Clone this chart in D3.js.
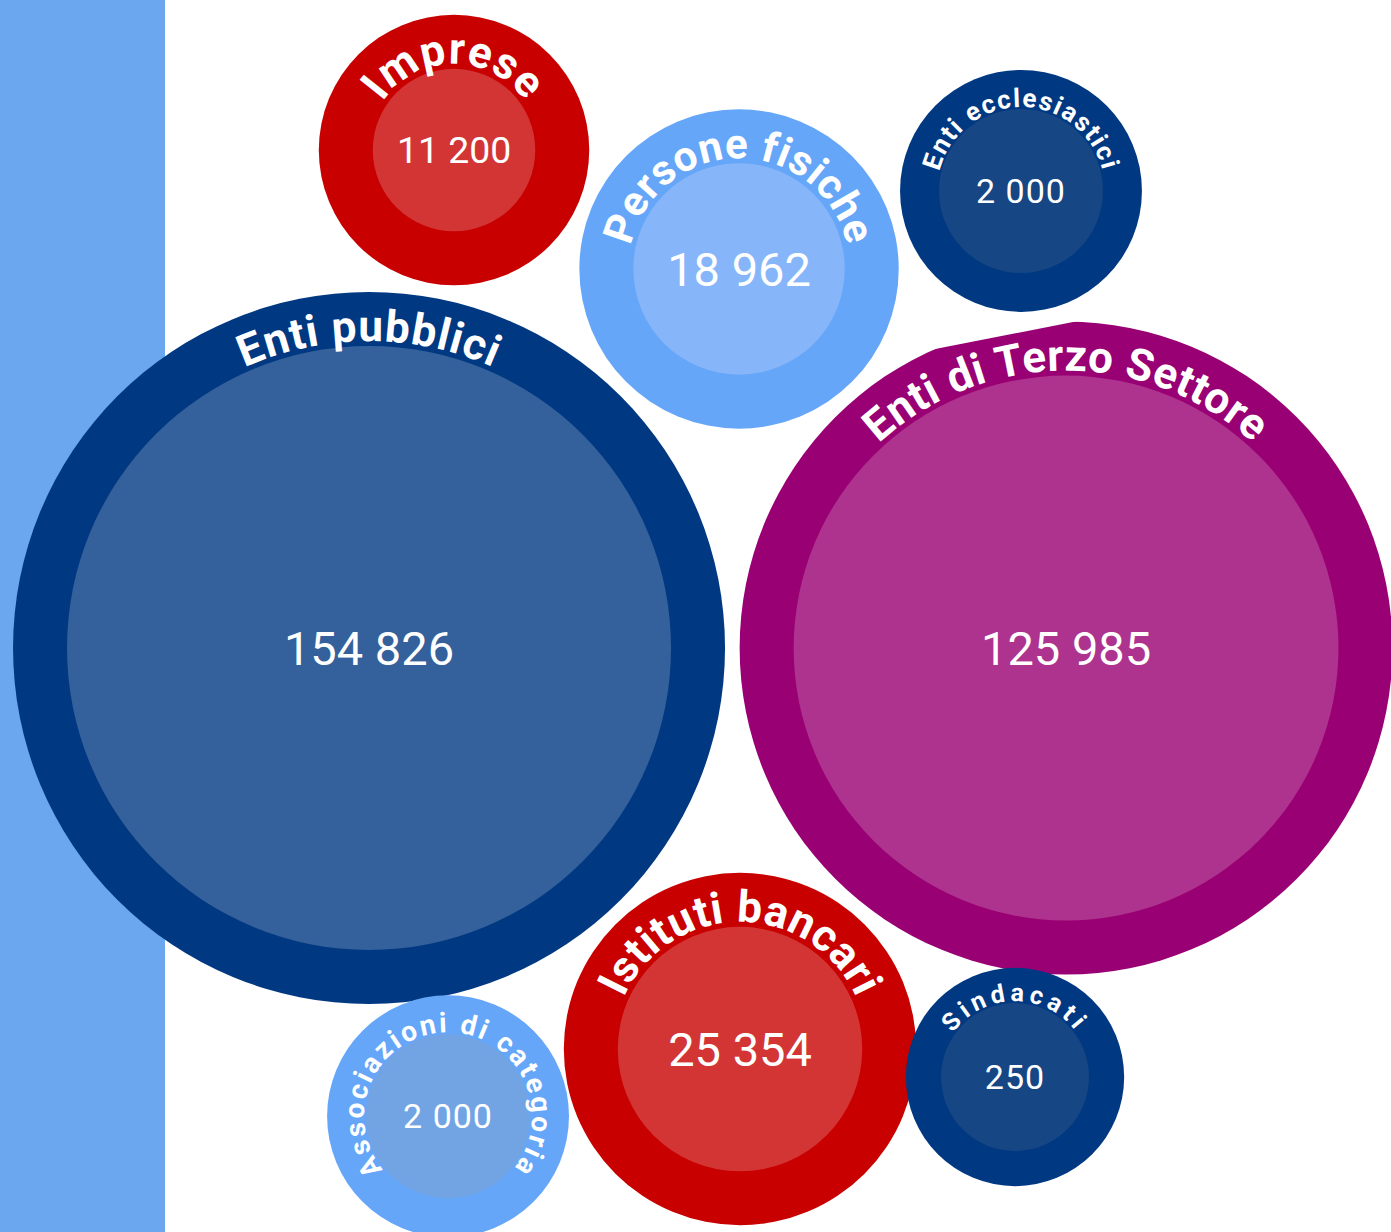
<!DOCTYPE html>
<html>
<head>
<meta charset="utf-8">
<script src="https://cdn.jsdelivr.net/npm/d3@7"></script>
<style>
  body { margin: 0; background: #fff; }
  svg { display: block; font-family: Roboto, "Noto Sans", sans-serif; }
</style>
</head>
<body>
<div id="chart-area"></div>
<script>
// SVG Size
var width = 1391,
    height = 1232;

// Data
var categories = ["Enti pubblici", "Enti di Terzo Settore", "Istituti bancari", "Persone fisiche",
                  "Imprese", "Enti ecclesiastici", "Associazioni di categoria", "Sindacati"];
var values = [154826, 125985, 25354, 18962, 11200, 2000, 2000, 250];

// Bubble layout (percent of the drawing area)
var layoutX = [26.53, 76.64, 53.2, 53.13, 32.64, 73.4, 32.21, 72.97];
var layoutY = [52.6, 52.6, 85.15, 21.83, 12.18, 15.5, 90.6, 87.42];

// Colours
var outerColors = ["#003882", "#990073", "#c80000", "#66a6f8", "#c80000", "#003882", "#66a6f8", "#003882"];
var innerColors = ["#34609b", "#ae338e", "#d33535", "#86b6f9", "#d33535", "#164683", "#72a4e4", "#164683"];

// label font size / letter spacing
var labelSizes = [44, 44, 44, 42, 44, 26, 28, 25];
var labelSpacing = [1, 0.5, 0.5, 0.5, 1, 1.5, 2.5, 4.5];

var fmt = d3.formatLocale({decimal: ",", thousands: " ", grouping: [3], currency: ["", "€"]}).format(",");

var data = categories.map(function(c, i) {
    return {
        name: c, value: values[i], px: layoutX[i], py: layoutY[i],
        outer: outerColors[i], inner: innerColors[i],
        lsize: labelSizes[i], lspace: labelSpacing[i]
    };
});

var xScale = d3.scaleLinear().domain([0, 100]).range([0, width]);
var yScale = d3.scaleLinear().domain([0, 100]).range([0, height]);

// inner radius by value; small values get a floor scale
var rScale = d3.scaleSqrt().domain([0, 154826]).range([0, 302]);
var smallScale = d3.scaleLinear().domain([250, 2000]).range([74, 82]).clamp(true);

data.forEach(function(d) {
    if (d.value >= 5000) {
        d.r = rScale(d.value);
        d.ring = 54;
        d.fs = Math.min(47, d.r * 0.46);
    } else {
        d.r = smallScale(d.value);
        d.ring = d.r * 0.475;
        d.fs = 34;
    }
    d.R = d.r + d.ring;
});

var svg = d3.select("#chart-area").append("svg")
    .attr("width", width)
    .attr("height", height);

// side panel
svg.append("rect")
    .attr("x", 0).attr("y", 0)
    .attr("width", 165).attr("height", height)
    .attr("fill", "#6aa7ef");

var bubble = svg.selectAll("g.bubble")
    .data(data)
    .enter()
    .append("g")
    .attr("class", "bubble")
    .attr("transform", function(d) {
        return "translate(" + xScale(d.px) + "," + yScale(d.py) + ")";
    });

bubble.append("circle")
    .attr("r", function(d) { return d.R; })
    .attr("fill", function(d) { return d.outer; });

bubble.append("circle")
    .attr("r", function(d) { return d.r; })
    .attr("fill", function(d) { return d.inner; });

// circular path for the label, starting at bottom, clockwise
bubble.append("path")
    .attr("id", function(d, i) { return "lp" + i; })
    .attr("fill", "none")
    .attr("d", function(d) {
        var rr = d.r + (d.value >= 5000 ? 5 : 2);
        return "M0," + rr + " A" + rr + "," + rr + " 0 1 1 0," + (-rr) +
               " A" + rr + "," + rr + " 0 1 1 0," + rr;
    });

bubble.append("text")
    .attr("fill", "#fff")
    .attr("font-weight", 700)
    .attr("font-size", function(d) { return d.lsize; })
    .attr("letter-spacing", function(d) { return d.lspace; })
    .append("textPath")
    .attr("href", function(d, i) { return "#lp" + i; })
    .attr("startOffset", "50%")
    .attr("text-anchor", "middle")
    .text(function(d) { return d.name; });

// flattened top edge on the Terzo Settore bubble
bubble.filter(function(d) { return d.name === "Enti di Terzo Settore"; })
    .append("path")
    .attr("fill", "#fff")
    .attr("d", function(d) {
        var a1 = -25.2 * Math.PI / 180, a2 = 3 * Math.PI / 180, R = d.R + 2;
        return "M" + (R * Math.sin(a1)) + "," + (-R * Math.cos(a1)) +
               " A" + R + "," + R + " 0 0 1 " + (R * Math.sin(a2)) + "," + (-R * Math.cos(a2)) + " Z";
    });

bubble.append("text")
    .attr("fill", "#fff")
    .attr("text-anchor", "middle")
    .attr("font-size", function(d) { return d.fs; })
    .attr("letter-spacing", function(d) { return d.value < 5000 ? 1 : 0; })
    .attr("y", function(d) { return d.fs * 0.355; })
    .text(function(d) { return fmt(d.value); });
</script>
</body>
</html>
